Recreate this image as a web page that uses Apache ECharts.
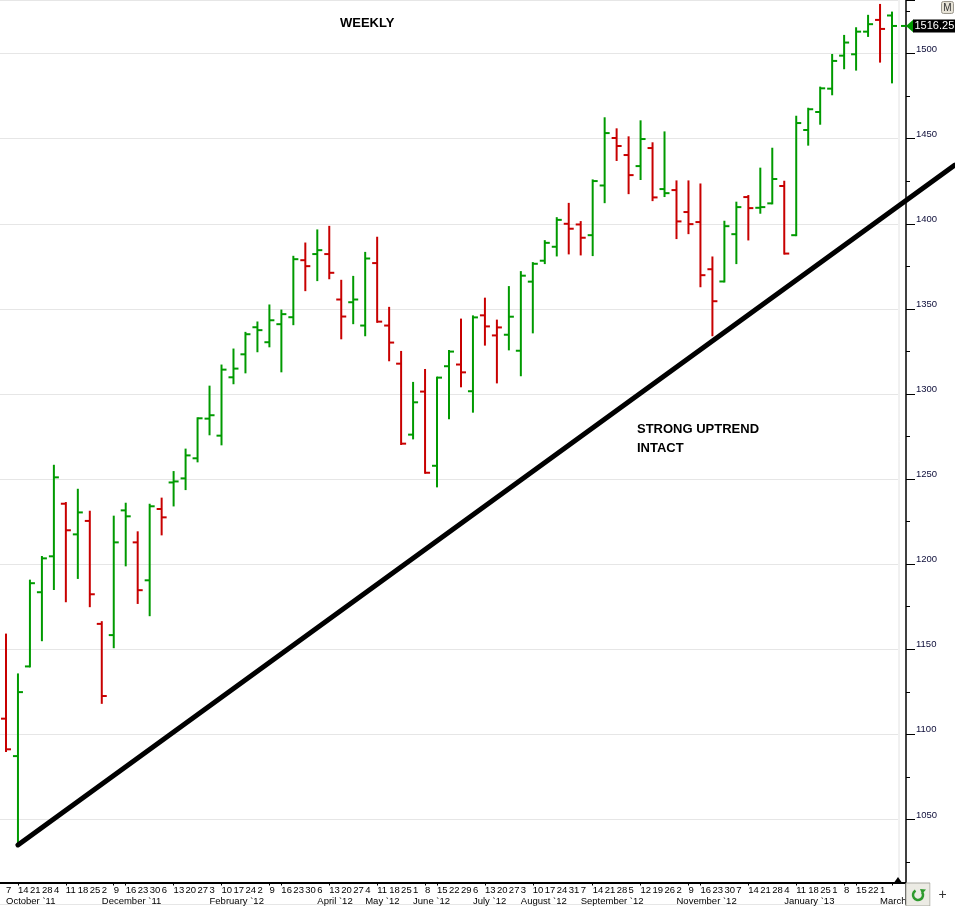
<!DOCTYPE html>
<html>
<head>
<meta charset="utf-8">
<title>Weekly</title>
<script src="https://cdn.jsdelivr.net/npm/echarts@6/dist/echarts.min.js"></script>
<style>
html, body { margin: 0; padding: 0; background: #fff; }
#main { width: 955px; height: 906px; }
</style>
</head>
<body>
<div id="main"></div>
<script>
// weekly bars, Oct 7 2011 .. Mar 8 2013
var dayLabels = ['7','14','21','28','4','11','18','25','2','9','16','23','30','6','13','20','27',
    '3','10','17','24','2','9','16','23','30','6','13','20','27','4','11','18','25',
    '1','8','15','22','29','6','13','20','27','3','10','17','24','31','7','14','21','28',
    '5','12','19','26','2','9','16','23','30','7','14','21','28','4','11','18','25',
    '1','8','15','22','1','8'];
// first bar of each month that gets a month name
var monthStart = [0, 8, 17, 26, 30, 34, 39, 43, 48, 56, 65, 73];
var monthName = ['October `11', 'December `11', 'February `12', 'April `12', 'May `12', 'June `12',
    'July `12', 'August `12', 'September `12', 'November `12', 'January `13', 'March `13'];

var opens = [1109.2, 1087.2, 1139.9, 1183.5, 1204.6, 1235.5, 1217.5, 1225.4, 1164.9, 1158.3,
    1231.6, 1212.8, 1190.5, 1232.4, 1248.0, 1250.4, 1262.2, 1285.5, 1275.5, 1309.8,
    1323.3, 1339.2, 1330.4, 1341.0, 1345.1, 1378.6, 1382.2, 1382.2, 1355.5, 1353.9,
    1340.2, 1376.9, 1340.2, 1317.8, 1276.1, 1301.4, 1257.8, 1316.3, 1317.3, 1301.6,
    1346.2, 1334.4, 1334.8, 1325.4, 1366.0, 1378.3, 1386.5, 1400.0, 1399.6, 1393.3,
    1422.5, 1450.4, 1440.4, 1433.9, 1444.5, 1420.4, 1419.8, 1406.9, 1401.0, 1373.3,
    1366.1, 1393.9, 1415.7, 1409.4, 1412.0, 1422.2, 1393.3, 1455.1, 1465.7, 1479.4,
    1498.8, 1499.6, 1512.9, 1519.8, 1522.4];
var highs = [1158.6, 1135.2, 1190.3, 1204.2, 1257.8, 1235.9, 1243.7, 1230.8, 1165.9, 1227.9,
    1235.5, 1218.7, 1234.9, 1238.5, 1254.1, 1267.3, 1285.7, 1304.3, 1316.7, 1326.1,
    1335.9, 1342.0, 1352.0, 1349.0, 1380.6, 1388.4, 1396.1, 1398.2, 1366.5, 1368.8,
    1382.9, 1391.8, 1350.6, 1324.7, 1306.5, 1314.1, 1309.6, 1325.3, 1343.7, 1345.6,
    1356.0, 1343.1, 1362.8, 1371.6, 1376.9, 1389.8, 1403.3, 1411.7, 1401.0, 1425.5,
    1462.0, 1455.5, 1450.8, 1460.2, 1447.3, 1453.7, 1424.9, 1424.9, 1423.1, 1380.2,
    1401.2, 1412.4, 1416.3, 1432.4, 1444.1, 1424.7, 1462.9, 1467.6, 1480.0, 1499.2,
    1510.4, 1514.9, 1522.2, 1528.6, 1524.1];
var lows = [1090.2, 1036.4, 1139.9, 1155.3, 1185.4, 1178.2, 1191.9, 1175.3, 1118.5, 1151.2,
    1199.3, 1177.2, 1170.0, 1217.5, 1234.5, 1244.1, 1260.4, 1276.3, 1270.4, 1306.3,
    1312.7, 1325.1, 1328.0, 1313.3, 1341.0, 1361.0, 1366.9, 1368.0, 1332.7, 1341.6,
    1334.5, 1342.4, 1319.8, 1270.6, 1273.9, 1253.7, 1245.7, 1285.7, 1304.5, 1289.6,
    1329.0, 1306.8, 1326.2, 1311.0, 1336.2, 1376.9, 1381.4, 1382.6, 1382.0, 1381.6,
    1412.7, 1437.5, 1418.0, 1426.3, 1413.9, 1416.3, 1391.6, 1394.5, 1363.3, 1334.5,
    1366.1, 1376.9, 1390.8, 1406.5, 1412.0, 1382.5, 1393.3, 1446.5, 1458.8, 1476.1,
    1491.4, 1490.6, 1510.4, 1495.3, 1483.1];
var closes = [1091.2, 1124.8, 1188.8, 1203.4, 1251.0, 1219.9, 1230.4, 1182.3, 1122.5, 1212.8,
    1228.1, 1184.7, 1234.0, 1227.5, 1248.6, 1263.9, 1285.7, 1287.5, 1314.3, 1314.9,
    1335.1, 1337.5, 1343.3, 1346.9, 1379.2, 1375.1, 1384.5, 1371.2, 1345.5, 1355.5,
    1379.6, 1342.5, 1330.2, 1270.8, 1295.1, 1253.7, 1309.6, 1324.9, 1312.7, 1345.0,
    1339.7, 1339.1, 1345.4, 1369.5, 1376.5, 1388.8, 1402.3, 1397.1, 1391.8, 1425.1,
    1453.3, 1445.7, 1428.6, 1449.8, 1415.5, 1418.0, 1401.4, 1399.8, 1369.8, 1354.5,
    1398.6, 1409.8, 1409.2, 1409.8, 1426.3, 1382.5, 1459.2, 1467.3, 1479.6, 1495.7,
    1506.5, 1512.9, 1517.3, 1514.5, 1516.25];

// trendline: two points [bar index, price]
var trendStart = [1, 1035];
var trendEnd = [79.25, 1434.5];

var UP = '#009a00', DOWN = '#c80000';
var FONT = 'Liberation Sans';

// build bar rows: index, o, h, l, c, up/down vs previous close
var barData = [];
for (var i = 0; i < closes.length; i++) {
    var ref = i === 0 ? opens[0] : closes[i - 1];
    barData.push([i, opens[i], highs[i], lows[i], closes[i], closes[i] >= ref ? 1 : 0]);
}

function renderBar(params, api) {
    var idx = api.value(0);
    var hi = api.coord([idx, api.value(2)]);
    var lo = api.coord([idx, api.value(3)]);
    var op = api.coord([idx, api.value(1)]);
    var cl = api.coord([idx, api.value(4)]);
    var x = hi[0];
    var color = api.value(5) ? UP : DOWN;
    var st = { stroke: color, lineWidth: 2 };
    return {
        type: 'group',
        children: [
            { type: 'line', shape: { x1: x, y1: hi[1] - 1, x2: x, y2: lo[1] + 1 }, style: st },
            { type: 'line', shape: { x1: x - 5, y1: op[1], x2: x, y2: op[1] }, style: st },
            { type: 'line', shape: { x1: x, y1: cl[1], x2: x + 5, y2: cl[1] }, style: st }
        ]
    };
}

var myChart = echarts.init(document.getElementById('main'));

var option = {
    animation: false,
    backgroundColor: '#fff',
    grid: { left: -2, right: 57, top: 0, bottom: 1 },
    xAxis: [{
        type: 'category',
        data: dayLabels,
        boundaryGap: true,
        offset: -22,
        axisLine: { onZero: false, lineStyle: { color: '#000', width: 2 } },
        axisTick: {
            show: true,
            alignWithLabel: true,
            length: 3,
            interval: function (index, value) {
                var d = +value;
                return d >= 8 && d <= 16;
            },
            lineStyle: { color: '#000' }
        },
        axisLabel: {
            interval: 0,
            align: 'left',
            margin: 3,
            fontFamily: FONT,
            color: '#000',
            formatter: function (value, index) {
                if (index === dayLabels.length - 1) return '';
                var k = monthStart.indexOf(index);
                return '{d|' + value + '}' + (k >= 0 ? '\n{m|' + monthName[k] + '}' : '');
            },
            rich: {
                d: { fontSize: 9.5, lineHeight: 10, fontFamily: FONT, color: '#000' },
                m: { fontSize: 9.5, lineHeight: 11, fontFamily: FONT, color: '#000' }
            }
        },
        splitLine: { show: false }
    }, {
        // hidden numeric axis with the same span as the bars, used for the trendline
        type: 'value',
        min: -0.5,
        max: 74.5,
        show: false
    }],
    yAxis: {
        type: 'value',
        position: 'right',
        offset: 8,
        min: 1000,
        max: 1531.5,
        interval: 50,
        axisLine: { show: true, onZero: false, lineStyle: { color: '#000', width: 1.5 } },
        axisTick: { show: true, length: 9, lineStyle: { color: '#000' } },
        minorTick: { show: true, splitNumber: 2, length: 4, lineStyle: { color: '#000' } },
        axisLabel: {
            margin: 10,
            fontFamily: FONT,
            fontSize: 9.5,
            color: '#0c0c38',
            verticalAlign: 'bottom',
            lineHeight: 9,
            showMaxLabel: false,
            formatter: function (v) {
                return (v >= 1050 && v % 50 === 0) ? String(v) : '';
            }
        },
        splitLine: { show: true, lineStyle: { color: '#e6e6e6', width: 1 } }
    },
    series: [{
        name: 'bars',
        type: 'custom',
        xAxisIndex: 0,
        renderItem: renderBar,
        encode: { x: 0, y: [1, 2, 3, 4] },
        data: barData,
        z: 2
    }, {
        // carries the trendline's coordinate system; the line itself is drawn below
        name: 'trend',
        type: 'line',
        xAxisIndex: 1,
        data: [trendStart, trendEnd],
        symbol: 'none',
        silent: true,
        lineStyle: { opacity: 0 }
    }]
};

myChart.setOption(option);

// trendline runs past the plot to the right edge, so place it through the axis scales
var t1 = myChart.convertToPixel({ seriesIndex: 1 }, trendStart);
var t2 = myChart.convertToPixel({ seriesIndex: 1 }, trendEnd);

// price tag and screen furniture
var last = closes[closes.length - 1];
var py = myChart.convertToPixel({ yAxisIndex: 0 }, last);
var lastX = myChart.convertToPixel({ xAxisIndex: 0 }, closes.length - 1);

myChart.setOption({
    graphic: [
        { type: 'line', z: 1, shape: { x1: lastX + 7, y1: 0, x2: lastX + 7, y2: 883 },
            style: { stroke: '#e2e2e2', lineWidth: 1 } },
        { type: 'line', z: 5, shape: { x1: t1[0], y1: t1[1], x2: t2[0], y2: t2[1] },
            style: { stroke: '#000', lineWidth: 5, lineCap: 'round' } },
        { type: 'line', z: 10, shape: { x1: 897, y1: 883, x2: 906, y2: 883 },
            style: { stroke: '#000', lineWidth: 2 } },
        { type: 'polygon', z: 10, shape: { points: [[898, 877], [894.5, 882], [901.5, 882]] },
            style: { fill: '#000' } },
        { type: 'text', z: 10, style: { text: 'WEEKLY', x: 340, y: 23, fill: '#000',
            font: 'bold 13px "Liberation Sans"', verticalAlign: 'middle' } },
        { type: 'text', z: 10, style: { text: 'STRONG UPTREND\nINTACT', x: 637, y: 420, fill: '#000',
            font: 'bold 13px "Liberation Sans"', lineHeight: 19, verticalAlign: 'top' } },
        // current price marker
        { type: 'line', z: 10, shape: { x1: lastX + 9, y1: py, x2: 906, y2: py },
            style: { stroke: UP, lineWidth: 2 } },
        { type: 'polygon', z: 10, shape: { points: [[906, py], [913.5, py - 6.5], [913.5, py + 6.5]] },
            style: { fill: UP } },
        { type: 'rect', z: 10, shape: { x: 913, y: py - 6.5, width: 42, height: 13 },
            style: { fill: '#000' } },
        { type: 'text', z: 11, style: { text: last.toFixed(2), x: 914.5, y: py, fill: '#fff',
            font: '11px "Liberation Sans"', verticalAlign: 'middle' } },
        // M button
        { type: 'rect', z: 10, shape: { x: 941.5, y: 1.5, width: 12, height: 12, r: 2 },
            style: { fill: '#e6e2d6', stroke: '#9a968c', lineWidth: 1 } },
        { type: 'text', z: 11, style: { text: 'M', x: 947.5, y: 8, fill: '#333',
            font: '10px "Liberation Sans"', align: 'center', verticalAlign: 'middle' } },
        // bottom right panel
        { type: 'rect', z: 10, shape: { x: 906, y: 883, width: 24, height: 23 },
            style: { fill: '#ecebe4', stroke: '#a8a8a0', lineWidth: 1 } },
        { type: 'rect', z: 10, shape: { x: 930.5, y: 883, width: 25, height: 23 },
            style: { fill: '#fff' } },
        { type: 'arc', z: 11, shape: { cx: 918, cy: 895, r: 5, startAngle: -0.6, endAngle: 4.2 },
            style: { stroke: '#2e9a2e', lineWidth: 2.5, fill: null } },
        { type: 'polygon', z: 11, shape: { points: [[920, 889], [926, 889.5], [922, 894]] },
            style: { fill: '#2e9a2e' } },
        { type: 'text', z: 11, style: { text: '+', x: 942.5, y: 895, fill: '#333',
            font: '14px "Liberation Sans"', align: 'center', verticalAlign: 'middle' } }
    ]
});
</script>
</body>
</html>
